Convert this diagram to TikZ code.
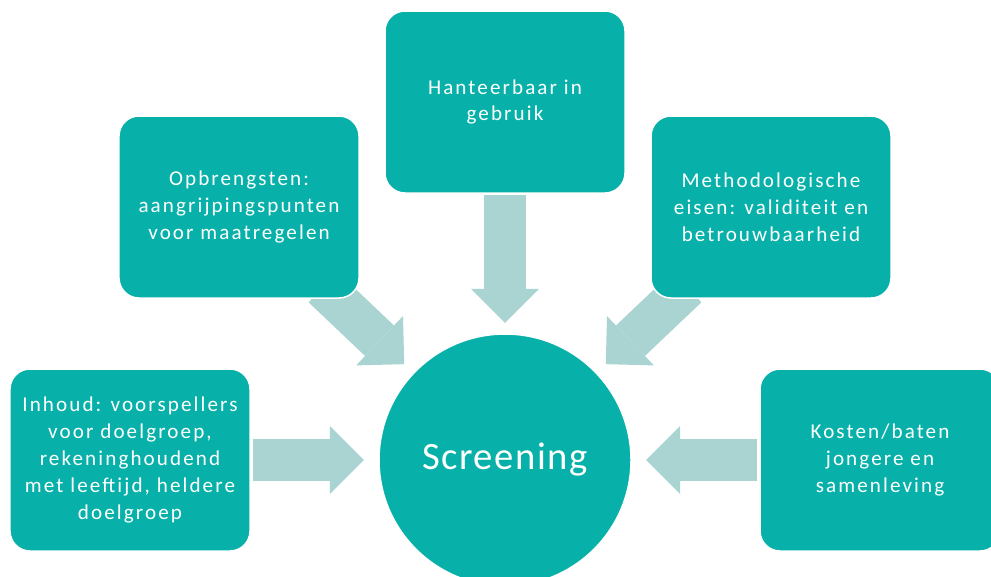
\documentclass[tikz,border=0pt]{standalone}
\usepackage{fontspec}
\setmainfont{Carlito}
\newfontfamily\vakfont[LetterSpace=10]{Carlito}
\newfontfamily\rondfont[LetterSpace=4]{Carlito}
\usetikzlibrary{arrows.meta,backgrounds}

\definecolor{vakkleur}{HTML}{07B1A9}
\definecolor{pijlkleur}{HTML}{A9D4D1}

\tikzset{
  vak/.style={rectangle, rounded corners=0.6cm, fill=vakkleur, draw=white, line width=0.045cm,
    minimum width=7.2cm, minimum height=5.46cm, text=white, align=center,
    font=\vakfont\fontsize{18pt}{23pt}\selectfont},
  rond/.style={circle, fill=vakkleur, draw=white, line width=0.045cm, minimum size=7.56cm,
    text=white, font=\rondfont\fontsize{33pt}{40pt}\selectfont},
  pijl/.style={pijlkleur, line width=1.26cm, -{Triangle[width=2.04cm,length=1.02cm,line width=0pt]}}
}

\begin{document}
\begin{tikzpicture}[x=0.03cm,y=-0.03cm]

%fixing the page size
\useasboundingbox (0,0) rectangle (991,576);

%drawing the middle circle
\node[rond] (scr) at (505,460) {Screening};

%drawing the boxes round it
\node[vak] (hant) at (505,102) {Hanteerbaar in\\gebruik};
\node[vak] (opbr) at (239,207) {Opbrengsten:\\aangrijpingspunten\\voor maatregelen};
\node[vak] (meth) at (771,207) {Methodologische\\eisen: validiteit en\\betrouwbaarheid};
\node[vak] (inh) at (130,460) {Inhoud: voorspellers\\voor doelgroep,\\rekeninghoudend\\met leeftijd, heldere\\doelgroep};
\node[vak] (kost) at (880,460) {Kosten/baten\\jongere en\\samenleving};

%block arrows from each box to the circle, under the boxes
\begin{pgfonlayer}{background}
\foreach \b/\s/\t in {hant/0.04cm/0.31cm, opbr/-0.51cm/0.37cm, meth/-0.51cm/0.37cm, inh/0.07cm/0.43cm, kost/0.07cm/0.43cm}
\draw[pijl, shorten <=\s, shorten >=\t] (\b) -- (scr);
\end{pgfonlayer}

\end{tikzpicture}
\end{document}
